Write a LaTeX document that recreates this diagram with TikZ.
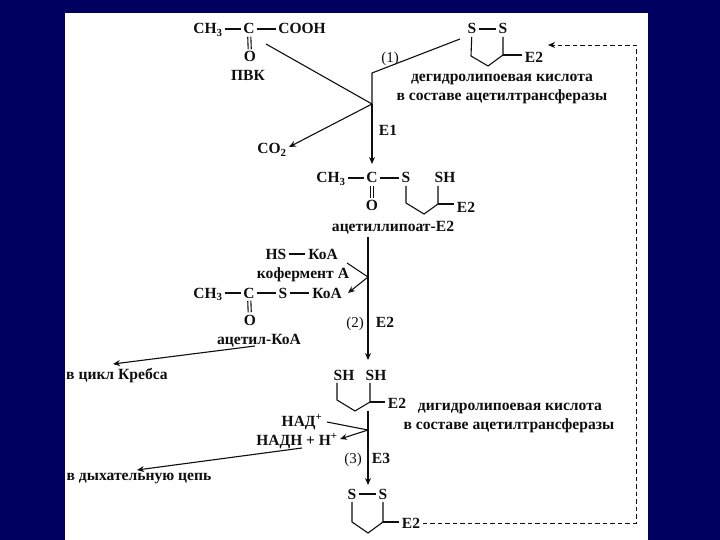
\documentclass[tikz,border=0pt]{standalone}
\usepackage{fontspec}
\setmainfont{Liberation Serif}
\usetikzlibrary{arrows.meta}
\definecolor{slidenavy}{RGB}{0, 0, 96}
\definecolor{inkblack}{RGB}{15, 15, 15}
\tikzset{
    chem/.style={font=\fontsize{15.5}{17}\bfseries\selectfont, text=inkblack, inner sep=2.6pt, text height=10pt, text depth=0pt, yshift=-1pt},
    caption/.style={font=\fontsize{15.6}{17}\bfseries\selectfont, text=inkblack, inner sep=0pt, yshift=-3pt},
    stepno/.style={chem, font=\fontsize{15}{17}\selectfont},
    bond/.style={line width=1.1pt, inkblack},
    rxn/.style={line width=1.1pt, inkblack},
    rxntip/.style={rxn, -{Stealth[length=7pt, width=6pt]}},
    recycle/.style={rxntip, line width=0.8pt, dash pattern=on 4.5pt off 3pt}
}
\begin{document}
\begin{tikzpicture}[x=1pt, y=-1pt]
    \useasboundingbox (0,0) rectangle (720,540);
    \fill[slidenavy] (0,0) rectangle (720,540);
    \fill[white] (65,13) rectangle (648,540);

    % Pyruvate
    \node[chem] (pvkch) at (208,28) {CH\textsubscript{3}};
    \node[chem] (pvkc) at (249,28) {C};
    \node[chem] (pvkcooh) at (302,28) {COOH};
    \node[chem] (pvko) at (250,56) {O};
    \node[chem] (pvk) at (248,75) {ПВК};
    \draw[bond] (pvkch) -- (pvkc);
    \draw[bond] (pvkc) -- (pvkcooh);
    \draw[bond, double, double distance=2pt] (pvkc) -- (pvko);

    % Oxidised lipoate at the top
    \node[chem] (topsa) at (472,28) {S};
    \node[chem] (topsb) at (503,28) {S};
    \node[chem] (tope) at (534,57) {E2};
    \node[caption] (toptxta) at (502,76) {дегидролипоевая кислота};
    \node[caption] (toptxtb) at (502,94) {в составе ацетилтрансферазы};
    \coordinate (topra) at (471,56);
    \coordinate (toprb) at (488,66);
    \coordinate (toprc) at (503,55);
    \draw[bond] (topsa) -- (topsb);
    \draw[bond] (topsa) -- (topra) -- (toprb) -- (toprc) -- (topsb);
    \draw[bond] (toprc) -- (toprc -| tope.west);

    % Step 1
    \coordinate (pvkin) at (266,44);
    \coordinate (lipin) at (460,39);
    \coordinate (knee) at (372,73);
    \coordinate (joina) at (372,104);
    \coordinate (cotip) at (289,147);
    \coordinate (liptip) at (372,164);
    \node[chem] (coo) at (272,148) {CO\textsubscript{2}};
    \node[stepno] (stepa) at (390,57) {(1)};
    \node[chem] (ea) at (388,130) {E1};

    % Acetyl lipoate
    \node[chem] (lipch) at (331,177) {CH\textsubscript{3}};
    \node[chem] (lipc) at (372,177) {C};
    \node[chem] (lips) at (406,177) {S};
    \node[chem] (lipsh) at (445,177) {SH};
    \node[chem] (lipo) at (372,205) {O};
    \node[chem] (lipe) at (466,206) {E2};
    \node[caption] (liptxt) at (393,225) {ацетиллипоат-E2};
    \coordinate (lipra) at (406,203);
    \coordinate (liprb) at (424,214);
    \coordinate (liprc) at (438,204);
    \draw[bond] (lipch) -- (lipc);
    \draw[bond] (lipc) -- (lips);
    \draw[bond, double, double distance=2pt] (lipc) -- (lipo);
    \draw[bond] (lips) -- (lipra) -- (liprb) -- (liprc) -- (liprc |- lipsh.south);
    \draw[bond] (liprc) -- (liprc -| lipe.west);
    \draw[rxn] (pvkin) -- (joina);
    \draw[rxn] (lipin) -- (knee) -- (joina);
    \draw[rxntip] (joina) -- (cotip);
    \draw[rxntip] (joina) -- (liptip);

    % Coenzyme A
    \node[chem] (hs) at (276,253) {HS};
    \node[chem] (hskoa) at (323,253) {КоА};
    \node[caption] (coatxt) at (303,272) {кофермент А};
    \node[chem] (acch) at (208,292) {CH\textsubscript{3}};
    \node[chem] (acc) at (249,292) {C};
    \node[chem] (acs) at (283,292) {S};
    \node[chem] (ackoa) at (327,292) {КоА};
    \node[chem] (aco) at (250,319) {O};
    \node[caption] (actxt) at (259,338) {ацетил-КоА};
    \draw[bond] (hs) -- (hskoa);
    \draw[bond] (acch) -- (acc);
    \draw[bond] (acc) -- (acs);
    \draw[bond] (acs) -- (ackoa);
    \draw[bond, double, double distance=2pt] (acc) -- (aco);

    % Step 2
    \coordinate (liptop) at (368,237);
    \coordinate (redtip) at (368,360);
    \coordinate (coain) at (347,263);
    \coordinate (joinb) at (368,277);
    \coordinate (coaout) at (348,293);
    \coordinate (acstart) at (255,346);
    \node[stepno] (stepb) at (355,321) {(2)};
    \node[chem] (eb) at (385,321) {E2};
    \node[caption] (krebs) at (117,373) {в цикл Кребса};
    \coordinate (krebstip) at (113,364);
    \draw[rxntip] (liptop) -- (redtip);
    \draw[rxn] (coain) -- (joinb);
    \draw[rxntip] (joinb) -- (coaout);
    \draw[rxntip] (acstart) -- (krebstip);

    % Reduced lipoate
    \node[chem] (redsa) at (344,374) {SH};
    \node[chem] (redsb) at (376,374) {SH};
    \node[chem] (rede) at (397,402) {E2};
    \node[caption] (redtxta) at (510,405) {дигидролипоевая кислота};
    \node[caption] (redtxtb) at (509,423) {в составе ацетилтрансферазы};
    \coordinate (redra) at (337,400);
    \coordinate (redrb) at (355,411);
    \coordinate (redrc) at (370,402);
    \draw[bond] (redra |- redsa.south) -- (redra) -- (redrb) -- (redrc) -- (redrc |- redsb.south);
    \draw[bond] (redrc) -- (redrc -| rede.west);

    % Step 3
    \node[chem] (nad) at (302,420) {НАД\textsuperscript{+}};
    \node[chem] (nadh) at (297,439) {НАДН + Н\textsuperscript{+}};
    \node[stepno] (stepc) at (353,457) {(3)};
    \node[chem] (ec) at (381,457) {E3};
    \node[caption] (resp) at (139,476) {в дыхательную цепь};
    \coordinate (redbot) at (368,411);
    \coordinate (bottip) at (368,485);
    \coordinate (nadin) at (327,422);
    \coordinate (joinc) at (368,430);
    \coordinate (nadhout) at (340,439);
    \coordinate (nadhstart) at (302,448);
    \coordinate (resptip) at (137,470);
    \draw[rxntip] (redbot) -- (bottip);
    \draw[rxn] (nadin) -- (joinc);
    \draw[rxntip] (joinc) -- (nadhout);
    \draw[rxntip] (nadhstart) -- (resptip);

    % Oxidised lipoate at the bottom
    \node[chem] (botsa) at (352,493) {S};
    \node[chem] (botsb) at (383,493) {S};
    \node[chem] (bote) at (411,522) {E2};
    \coordinate (botra) at (352,522);
    \coordinate (botrb) at (368,533);
    \coordinate (botrc) at (383,522);
    \draw[bond] (botsa) -- (botsb);
    \draw[bond] (botsa) -- (botra) -- (botrb) -- (botrc) -- (botsb);
    \draw[bond] (botrc) -- (botrc -| bote.west);

    % Return path
    \coordinate (backb) at (636,45);
    \coordinate (backtip) at (548,45);
    \draw[recycle] (bote.east) -- (bote.east -| backb) -- (backb) -- (backtip);
\end{tikzpicture}
\end{document}
